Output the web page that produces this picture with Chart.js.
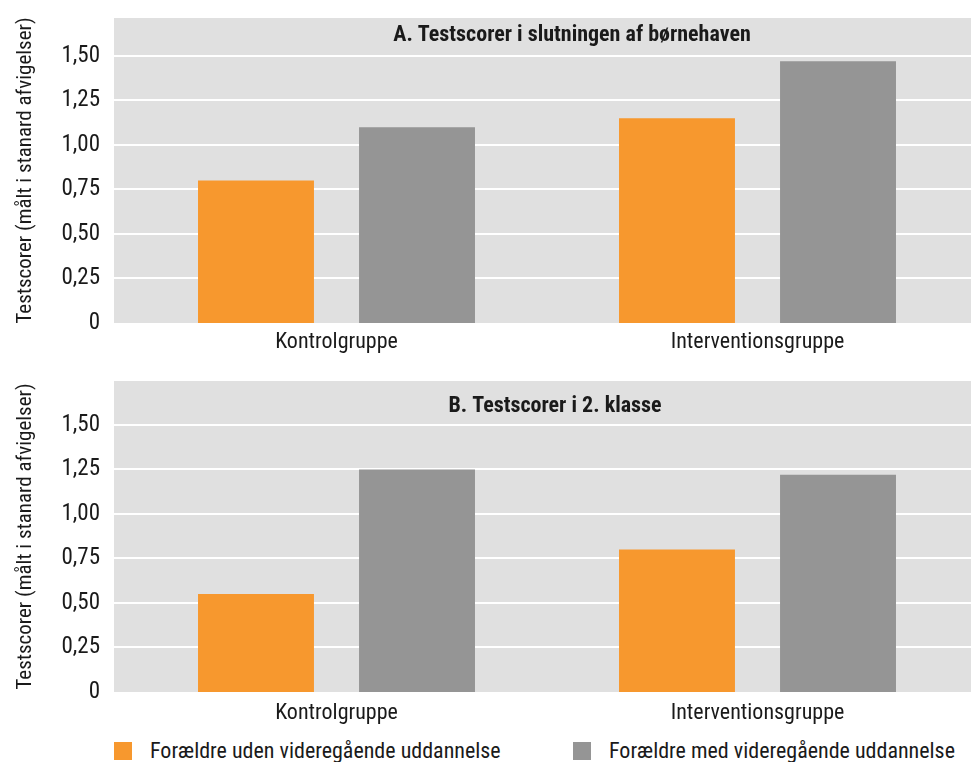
<!DOCTYPE html>
<html lang="da">
<head>
<meta charset="utf-8">
<title>Testscorer</title>
<script src="https://cdn.jsdelivr.net/npm/chart.js@4.4.1/dist/chart.umd.min.js"></script>
<style>
    body { margin: 0; background: #fff; }
    #wrap { position: relative; width: 971px; height: 762px; font-family: "Roboto Condensed", sans-serif; color: #1a1a1a; }
    .panel { position: absolute; left: 0; width: 971px; }
    #legend { position: absolute; left: 0; top: 740px; width: 971px; height: 22px; font-size: 22px; }
    .item { position: absolute; top: 0; white-space: nowrap; line-height: 22px; }
    .box { position: absolute; top: 2px; left: 0; width: 18px; height: 18px; }
    .item span.txt { position: absolute; left: 36px; top: 0; }
</style>
</head>
<body>
<div id="wrap">
    <div class="panel" style="top:0"><canvas id="chartA" width="971" height="360"></canvas></div>
    <div class="panel" style="top:360px"><canvas id="chartB" width="971" height="370"></canvas></div>
    <div id="legend"></div>
</div>

<script>
// data
var kategorier = ["Kontrolgruppe", "Interventionsgruppe"];
var serieNavne = ["Forældre uden videregående uddannelse", "Forældre med videregående uddannelse"];
var udenA = [0.80, 1.15];
var medA = [1.10, 1.47];
var udenB = [0.55, 0.80];
var medB = [1.25, 1.22];
var yTicks = [0, 0.25, 0.50, 0.75, 1.00, 1.25, 1.50];
var titelA = "A. Testscorer i slutningen af børnehaven";
var titelB = "B. Testscorer i 2. klasse";
var yTitel = "Testscorer (målt i stanard afvigelser)";

const ORANGE = "#f7982e";
const GRAA = "#959595";
const BAGGRUND = "#e0e0e0";
const TEKST = "#1a1a1a";
const FONT = "'Roboto Condensed', sans-serif";

// graa baggrund + hvide linjer, lidt bredere end selve plotomraadet
var panelPlugin = {
    id: "panel",
    beforeDraw: function (chart, args, opts) {
        var ctx = chart.ctx;
        var a = chart.chartArea;
        var y = chart.scales.y;
        var left = a.left - opts.extraLeft;
        ctx.save();
        ctx.fillStyle = BAGGRUND;
        ctx.fillRect(left, a.top, chart.width - left, a.bottom - a.top);
        ctx.strokeStyle = "#ffffff";
        ctx.lineWidth = 2;
        for (var i = 1; i < yTicks.length; i++) {
            var py = Math.round(y.getPixelForValue(yTicks[i]));
            ctx.beginPath();
            ctx.moveTo(left, py);
            ctx.lineTo(chart.width, py);
            ctx.stroke();
        }
        ctx.restore();
    },
    afterDraw: function (chart, args, opts) {
        var ctx = chart.ctx;
        ctx.save();
        ctx.fillStyle = TEKST;
        ctx.font = "bold 22px " + FONT;
        ctx.textAlign = "center";
        ctx.textBaseline = "middle";
        ctx.fillText(opts.titel, opts.titelX, chart.chartArea.top + opts.titelDy);
        ctx.restore();
    }
};

function lavGraf(id, uden, med, opts) {
    return new Chart(document.getElementById(id), {
        type: "bar",
        data: {
            labels: kategorier,
            datasets: [{
                label: serieNavne[0],
                data: uden,
                backgroundColor: ORANGE
            }, {
                label: serieNavne[1],
                data: med,
                backgroundColor: GRAA
            }]
        },
        options: {
            responsive: false,
            animation: false,
            events: [],
            categoryPercentage: 0.765,
            barPercentage: 0.72,
            layout: { padding: { top: opts.top, right: 3, left: 0, bottom: 0 } },
            plugins: {
                legend: { display: false },
                tooltip: { enabled: false },
                panel: { extraLeft: 12, titel: opts.titel, titelX: opts.titelX, titelDy: opts.titelDy }
            },
            scales: {
                x: {
                    grid: { display: false, drawTicks: false },
                    border: { display: false },
                    ticks: { color: TEKST, padding: opts.xPad, font: { family: FONT, size: 22 } },
                    afterFit: function (s) {
                        s.height = opts.xHoejde;
                        s.paddingLeft = 0;
                        s.paddingRight = 0;
                    }
                },
                y: {
                    min: 0,
                    max: opts.max,
                    grid: { display: false, drawTicks: false },
                    border: { display: false },
                    afterBuildTicks: function (s) {
                        s.ticks = yTicks.map(function (v) { return { value: v }; });
                    },
                    ticks: {
                        color: TEKST,
                        padding: 26,
                        font: { family: FONT, size: 23 },
                        callback: function (v) {
                            return v === 0 ? "0" : v.toFixed(2).replace(".", ",");
                        }
                    },
                    title: {
                        display: true,
                        text: yTitel,
                        color: TEKST,
                        font: { family: FONT, size: 21 },
                        padding: { top: 13, bottom: 0 }
                    },
                    afterFit: function (s) {
                        s.width = 126;
                        s.paddingTop = 0;
                        s.paddingBottom = 0;
                    }
                }
            }
        },
        plugins: [panelPlugin]
    });
}

var grafA = lavGraf("chartA", udenA, medA, { top: 18, max: 1.713, xHoejde: 37, xPad: 6, titel: titelA, titelX: 572, titelDy: 17 });
var grafB = lavGraf("chartB", udenB, medB, { top: 21, max: 1.747, xHoejde: 38, xPad: 8, titel: titelB, titelX: 555, titelDy: 25 });

// legende
var legendPos = [114, 573];
var farver = [ORANGE, GRAA];
var legend = document.getElementById("legend");
for (var i = 0; i < serieNavne.length; i++) {
    var item = document.createElement("div");
    item.className = "item";
    item.style.left = legendPos[i] + "px";
    item.innerHTML = '<div class="box" style="background:' + farver[i] + '"></div><span class="txt">' + serieNavne[i] + '</span>';
    legend.appendChild(item);
}
</script>
</body>
</html>
